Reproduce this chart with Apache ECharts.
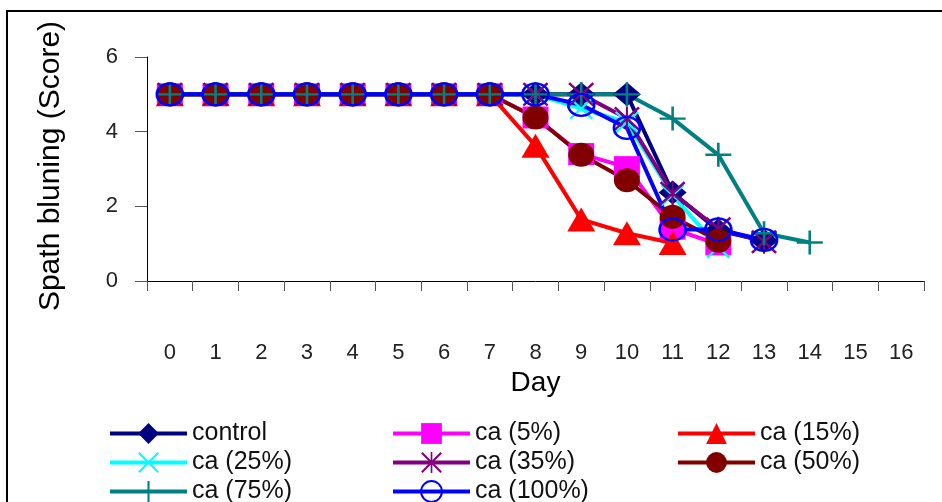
<!DOCTYPE html>
<html lang="en">
<head>
    <meta charset="UTF-8">
    <title>Spath bluning</title>
    <script src="https://cdn.jsdelivr.net/npm/echarts/dist/echarts.min.js"></script>
    <style>
        html, body { margin: 0; padding: 0; background: #fff; }
        #main { width: 942px; height: 502px; }
    </style>
</head>
<body>
<div id="main"></div>
<script>
    // 天数（x 轴）
    const days = ['0', '1', '2', '3', '4', '5', '6', '7', '8', '9', '10', '11', '12', '13', '14', '15', '16'];

    // 各处理的评分
    const control = [5, 5, 5, 5, 5, 5, 5, 5, 5, 5, 5, 2.37, 1.35, 1.08];
    const ca5 = [5, 5, 5, 5, 5, 5, 5, 5, 4.38, 3.4, 3.05, 1.4, 0.98];
    const ca15 = [5, 5, 5, 5, 5, 5, 5, 5, 3.62, 1.65, 1.28, 1.02];
    const ca25 = [5, 5, 5, 5, 5, 5, 5, 5, 5, 4.62, 4.25, 2.3, 0.9];
    const ca35 = [5, 5, 5, 5, 5, 5, 5, 5, 5, 5, 4.35, 2.35, 1.4, 1.05];
    const ca50 = [5, 5, 5, 5, 5, 5, 5, 5, 4.38, 3.38, 2.7, 1.72, 1.08];
    const ca75 = [5, 5, 5, 5, 5, 5, 5, 5, 5, 5, 5, 4.35, 3.38, 1.28, 1.03];
    const ca100 = [5, 5, 5, 5, 5, 5, 5, 5, 5, 4.72, 4.1, 1.38, 1.38, 1.1];

    const yTicks = [0, 2, 4, 6];

    // 自定义符号（填充多边形）
    const plusPath = 'path://M9,0 L11,0 L11,9 L20,9 L20,11 L11,11 L11,20 L9,20 L9,11 L0,11 L0,9 L9,9 Z';
    const xPath = 'path://M1.4,0 L10,8.6 L18.6,0 L20,1.4 L11.4,10 L20,18.6 L18.6,20 L10,11.4 L1.4,20 L0,18.6 L8.6,10 L0,1.4 Z';
    const starPath = xPath + ' M9.2,0 L10.8,0 L10.8,20 L9.2,20 Z';

    const font = '"Liberation Sans", Arial, sans-serif';

    function makeSeries(name, data, color, symbol, size, extra) {
        const s = {
            name: name,
            type: 'line',
            data: data,
            symbol: symbol,
            symbolSize: size,
            lineStyle: { color: color, width: 4 },
            itemStyle: { color: color },
            emphasis: { disabled: true },
            animation: false
        };
        return Object.assign(s, extra || {});
    }

    const series = [
        makeSeries('control', control, '#000080', 'diamond', [28, 24]),
        makeSeries('ca (5%)', ca5, '#ff00ff', 'rect', [26, 22]),
        makeSeries('ca (15%)', ca15, '#ff0000', 'triangle', [28, 24]),
        makeSeries('ca (25%)', ca25, '#00ffff', xPath, [24, 22]),
        makeSeries('ca (35%)', ca35, '#800080', starPath, [26, 24]),
        makeSeries('ca (50%)', ca50, '#800000', 'circle', [26, 24]),
        makeSeries('ca (75%)', ca75, '#008080', plusPath, [26, 24]),
        makeSeries('ca (100%)', ca100, '#0000ff', 'circle', [26, 22], {
            itemStyle: { color: 'rgba(0,0,0,0)', borderColor: '#0000ff', borderWidth: 2.5 }
        })
    ];

    function legendCol(left, names) {
        return {
            orient: 'vertical',
            left: left,
            top: 416,
            height: 120,
            itemWidth: 77,
            itemHeight: 26,
            itemGap: 4,
            selectedMode: false,
            data: names,
            lineStyle: { width: 4 },
            textStyle: { fontFamily: font, fontSize: 25, color: '#111' }
        };
    }

    const chart = echarts.init(document.getElementById('main'));

    const option = {
        animation: false,
        backgroundColor: '#fff',
        textStyle: { fontFamily: font },
        graphic: [{
            type: 'rect',
            shape: { x: 7, y: 11, width: 960, height: 520 },
            style: { fill: 'none', stroke: '#000', lineWidth: 2 },
            silent: true
        }, {
            type: 'text',
            rotation: Math.PI / 2,
            x: 51,
            y: 166,
            style: {
                text: 'Spath bluning (Score)',
                font: '30px ' + font,
                fill: '#000',
                align: 'center',
                verticalAlign: 'middle'
            },
            silent: true
        }],
        legend: [
            legendCol(103, ['control', 'ca (25%)', 'ca (75%)']),
            legendCol(386, ['ca (5%)', 'ca (35%)', 'ca (100%)']),
            legendCol(671, ['ca (15%)', 'ca (50%)'])
        ],
        grid: {
            left: 147,
            top: 57,
            right: 18,
            bottom: 221,
            containLabel: false
        },
        xAxis: {
            type: 'category',
            data: days,
            boundaryGap: true,
            name: 'Day',
            nameLocation: 'middle',
            nameGap: 88,
            nameTextStyle: { fontSize: 28, color: '#000', fontFamily: font },
            axisLine: { lineStyle: { color: '#000', width: 1 } },
            axisTick: { show: true, length: 10, lineStyle: { color: '#555' } },
            axisLabel: { margin: 61, fontSize: 22, color: '#222', fontFamily: font, interval: 0 }
        },
        yAxis: {
            type: 'value',
            min: yTicks[0],
            max: yTicks[yTicks.length - 1],
            interval: 2,
            axisLine: { show: true, lineStyle: { color: '#000', width: 1 } },
            axisTick: { show: true, length: 12, lineStyle: { color: '#555' } },
            splitLine: { show: false },
            axisLabel: { margin: 29, fontSize: 22, color: '#222', fontFamily: font }
        },
        series: series
    };

    chart.setOption(option);
</script>
</body>
</html>
